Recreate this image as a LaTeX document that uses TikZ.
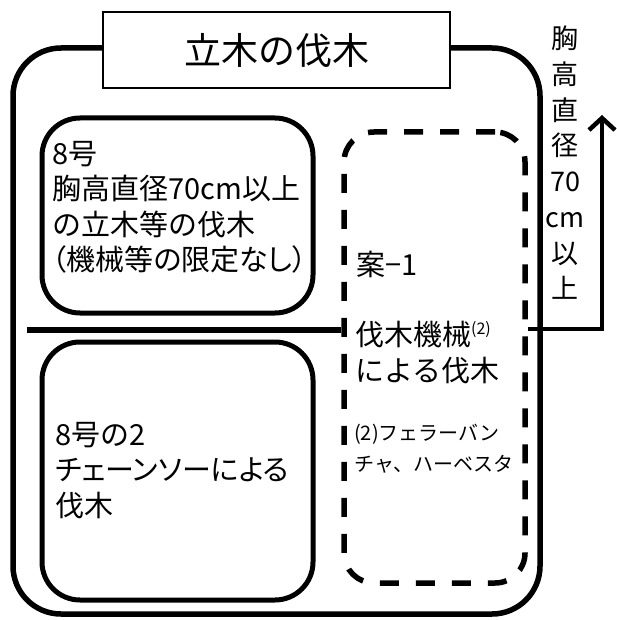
\documentclass[tikz,border=0pt]{standalone}
\usepackage{fontspec}
\setmainfont{Noto Sans CJK JP}
\newfontfamily\jpp[RawFeature=+palt]{Noto Sans CJK JP}
\usetikzlibrary{arrows.meta}
\begin{document}
\begin{tikzpicture}[x=1pt,y=-1pt,
  frame/.style={draw, line width=5.5pt, rounded corners=48pt, inner sep=0pt},
  panel/.style={draw, line width=5pt, rounded corners=38pt, inner sep=0pt, minimum width=271pt},
  dashpanel/.style={draw, line width=5.5pt, rounded corners=30pt, inner sep=0pt, dash pattern=on 19pt off 17pt},
  txt/.style={inner sep=0pt, anchor=north west, align=left},
  big/.style={font=\fontsize{29}{35.5}\selectfont},
  small/.style={font=\fontsize{20}{31}\selectfont},
  conn/.style={line width=6pt},
  arr/.style={line width=4.5pt, -{Straight Barb[length=12pt,width=26pt]}}]
\useasboundingbox (0,0) rectangle (616,620);
% outer frame
\node[frame, minimum width=527pt, minimum height=566pt] (outer) at (276.5,331) {};
% title
\node[draw, fill=white, line width=1.3pt, minimum width=347pt, minimum height=76pt,
      font=\fontsize{37}{40}\selectfont] (title) at (276.5,50) {立木の伐木};
% panels
\node[panel, minimum height=195pt] (p1) at (177.5,215.5) {};
\node[panel, minimum height=258pt] (p2) at (177.5,471) {};
\node[dashpanel, minimum width=181pt, minimum height=451pt] (dash) at (434.5,357.5) {};
% texts
\node[txt, big] (t1) at (52,141) {8号\\胸高直径70cm以上\\の立木等の伐木\\{\jpp （機械等の限定なし）}};
\node[txt, big] (t2) at (55,422) {8号の2\\{\jpp チェーンソーによる}\\伐木};
\node[txt, big] (t3) at (356,251) {案−1};
\node[txt, big] (t4) at (355,321) {伐木機械\raisebox{11pt}{\fontsize{16}{16}\selectfont (2)}\\による伐木};
\node[txt, small] (t5) at (354,424) {(2)フェラーバン\\チャ、ハーベスタ};
\node[inner sep=0pt, anchor=north, align=center, font=\fontsize{27}{35.7}\selectfont] (vlab) at (565,26)
  {胸\\高\\直\\径\\70\\cm\\以\\上};
% connectors
\coordinate (hl) at (27,330);
\draw[conn] (hl) -- (hl -| dash.west);
\coordinate (bend) at (602,329);
\coordinate (tip) at (602,115);
\draw[arr] (bend -| dash.east) -- (bend) -- (tip);
\end{tikzpicture}
\end{document}
